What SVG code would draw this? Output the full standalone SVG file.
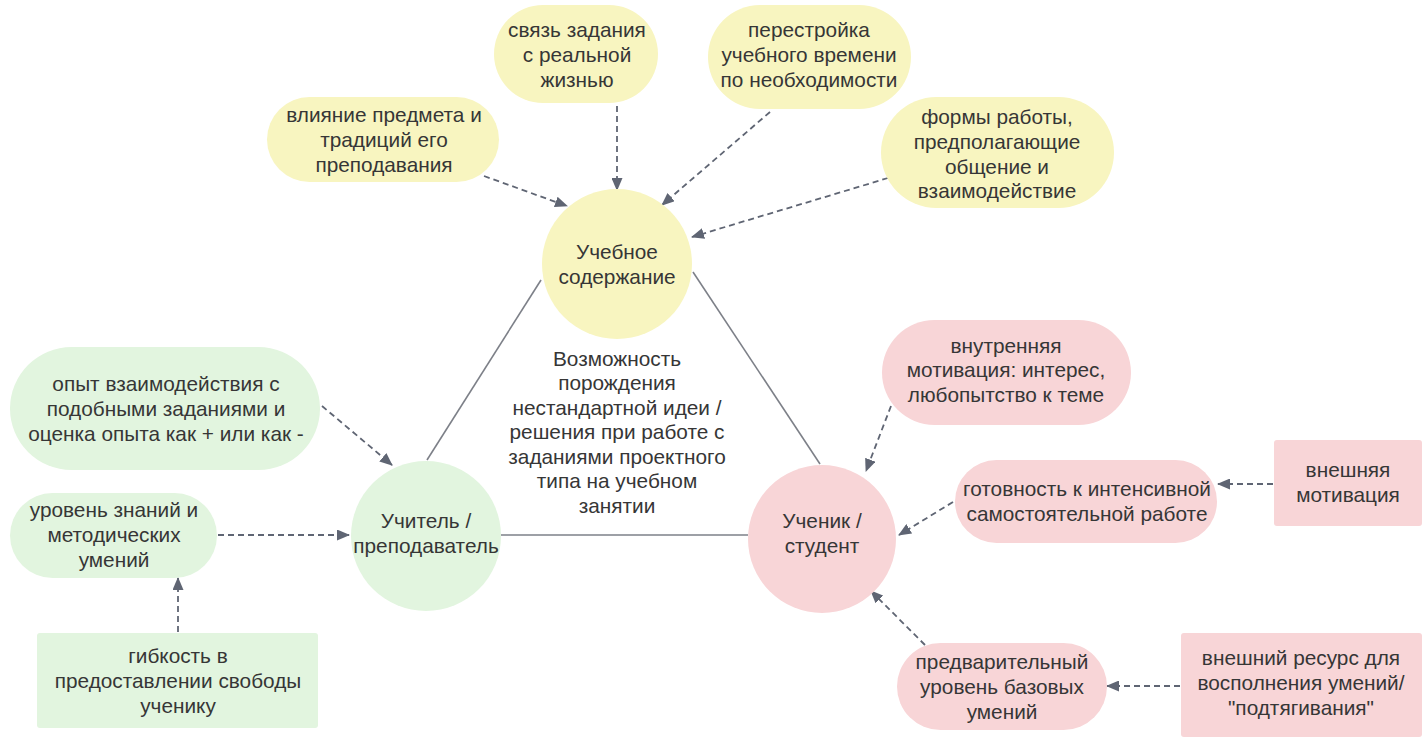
<svg xmlns="http://www.w3.org/2000/svg" width="1422" height="738" viewBox="0 0 1422 738">
<defs>
<style>
text{font-family:"Liberation Sans",Arial,sans-serif;font-size:20.8px;fill:#363636;text-anchor:middle}
.y{fill:#f8f5c0}
.g{fill:#e2f5df}
.r{fill:#f8d5d7}
.tri{stroke:#7d8088;stroke-width:1.6;fill:none}
.d{stroke:#5f6573;stroke-width:1.8;stroke-dasharray:6 4;fill:none;marker-end:url(#ah)}
</style>
<marker id="ah" viewBox="0 0 13 11" refX="12" refY="5.5" markerWidth="13" markerHeight="11" markerUnits="userSpaceOnUse" orient="auto">
<path d="M0,0 L13,5.5 L0,11 z" fill="#5f6573"/>
</marker>
</defs>
<rect width="1422" height="738" fill="#ffffff"/>
<g id="connectors">
<line class="tri" x1="541" y1="280" x2="427" y2="460"/>
<line class="tri" x1="693" y1="272" x2="820" y2="464"/>
<line class="tri" x1="501" y1="535" x2="748" y2="535"/>
<path class="d" d="M484,176 L567,206"/>
<path class="d" d="M617,106 L617,190"/>
<path class="d" d="M770,112 L662,205"/>
<path class="d" d="M888,178 L692,237"/>
<path class="d" d="M322,406 L392,465"/>
<path class="d" d="M218,535 L349,535"/>
<path class="d" d="M178,632 L178,578"/>
<path class="d" d="M891,406 L866,471"/>
<path class="d" d="M953,502 L899,535"/>
<path class="d" d="M1273,484 L1218,484"/>
<path class="d" d="M925,645 L871,591"/>
<path class="d" d="M1180,686 L1107,686"/>
</g>
<g id="content">
<circle class="y" cx="617" cy="264" r="75"/>
<text x="617" y="259">Учебное</text>
<text x="617" y="284">содержание</text>
</g>
<g id="teacher">
<circle class="g" cx="426" cy="536" r="75"/>
<text x="426" y="528">Учитель /</text>
<text x="426" y="553">преподаватель</text>
</g>
<g id="student">
<circle class="r" cx="822" cy="539" r="74"/>
<text x="822" y="528">Ученик /</text>
<text x="822" y="553">студент</text>
</g>
<g id="center-label">
<text x="617" y="366">Возможность</text>
<text x="617" y="390">порождения</text>
<text x="617" y="415">нестандартной идеи /</text>
<text x="617" y="439">решения при работе с</text>
<text x="617" y="464">заданиями проектного</text>
<text x="617" y="488">типа на учебном</text>
<text x="617" y="513">занятии</text>
</g>
<g id="vliyanie">
<rect class="y" x="267" y="97" width="232" height="85" rx="42.5"/>
<text x="384" y="122">влияние предмета и</text>
<text x="384" y="147">традиций его</text>
<text x="384" y="172">преподавания</text>
</g>
<g id="svyaz">
<rect class="y" x="494" y="5" width="164" height="98" rx="49"/>
<text x="577" y="37">связь задания</text>
<text x="577" y="62">с реальной</text>
<text x="577" y="87">жизнью</text>
</g>
<g id="perestroyka">
<rect class="y" x="708" y="5" width="203" height="104" rx="52"/>
<text x="809" y="37">перестройка</text>
<text x="809" y="62">учебного времени</text>
<text x="809" y="87">по необходимости</text>
</g>
<g id="formy">
<rect class="y" x="881" y="97" width="233" height="111" rx="55.5"/>
<text x="997" y="124">формы работы,</text>
<text x="997" y="149">предполагающие</text>
<text x="997" y="174">общение и</text>
<text x="997" y="198">взаимодействие</text>
</g>
<g id="opyt">
<rect class="g" x="10" y="347" width="310" height="123" rx="61.5"/>
<text x="166" y="391">опыт взаимодействия с</text>
<text x="166" y="416">подобными заданиями и</text>
<text x="166" y="441">оценка опыта как + или как -</text>
</g>
<g id="uroven">
<rect class="g" x="10" y="493" width="207" height="85" rx="42.5"/>
<text x="114" y="517">уровень знаний и</text>
<text x="114" y="542">методических</text>
<text x="114" y="567">умений</text>
</g>
<g id="gibkost">
<rect class="g" x="37" y="633" width="281" height="95" rx="3"/>
<text x="178" y="663">гибкость в</text>
<text x="178" y="688">предоставлении свободы</text>
<text x="178" y="713">ученику</text>
</g>
<g id="vnutrennyaya">
<rect class="r" x="882" y="320" width="249" height="105" rx="52.5"/>
<text x="1006" y="353">внутренняя</text>
<text x="1006" y="377">мотивация: интерес,</text>
<text x="1006" y="402">любопытство к теме</text>
</g>
<g id="gotovnost">
<rect class="r" x="955" y="460" width="262" height="83" rx="41.5"/>
<text x="1087" y="496">готовность к интенсивной</text>
<text x="1087" y="521">самостоятельной работе</text>
</g>
<g id="vneshnyaya">
<rect class="r" x="1274" y="440" width="148" height="86" rx="3"/>
<text x="1348" y="477">внешняя</text>
<text x="1348" y="502">мотивация</text>
</g>
<g id="predvaritelny">
<rect class="r" x="897" y="643" width="210" height="87" rx="43.5"/>
<text x="1002" y="669">предварительный</text>
<text x="1002" y="694">уровень базовых</text>
<text x="1002" y="719">умений</text>
</g>
<g id="resurs">
<rect class="r" x="1181" y="633" width="241" height="104" rx="3"/>
<text x="1301" y="665">внешний ресурс для</text>
<text x="1301" y="690">восполнения умений/</text>
<text x="1301" y="715">"подтягивания"</text>
</g>
</svg>
